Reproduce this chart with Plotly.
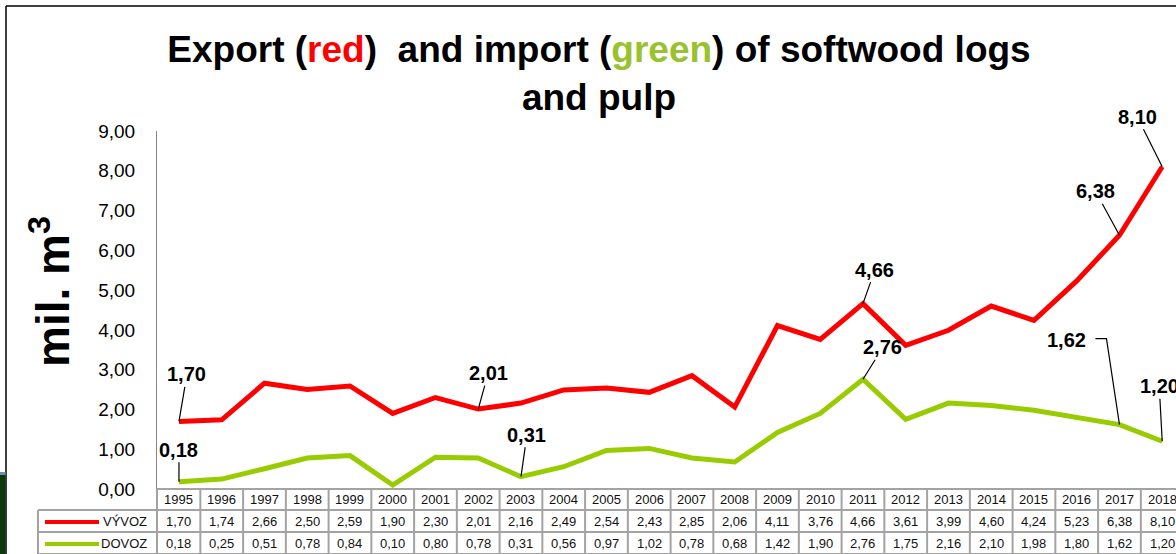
import plotly.graph_objects as go

# ---------------- data ----------------
years = list(range(1995, 2019))
vyvoz = [1.70, 1.74, 2.66, 2.50, 2.59, 1.90, 2.30, 2.01, 2.16, 2.49, 2.54, 2.43,
         2.85, 2.06, 4.11, 3.76, 4.66, 3.61, 3.99, 4.60, 4.24, 5.23, 6.38, 8.10]
dovoz = [0.18, 0.25, 0.51, 0.78, 0.84, 0.10, 0.80, 0.78, 0.31, 0.56, 0.97, 1.02,
         0.78, 0.68, 1.42, 1.90, 2.76, 1.75, 2.16, 2.10, 1.98, 1.80, 1.62, 1.20]
series_names = ["VÝVOZ", "DOVOZ"]
y_ticks = [0, 1, 2, 3, 4, 5, 6, 7, 8, 9]
labels_vyvoz = [1995, 2002, 2011, 2017, 2018]
labels_dovoz = [1995, 2003, 2011, 2017, 2018]

# ---------------- styling / layout geometry ----------------
RED = "#ff0000"
GREEN = "#99cc00"
FONT = "Liberation Sans, Arial, sans-serif"
W, H = 1176, 554
L, T, B = 157, 131, 489
PW, PH = W - L, B - T
GRID = "#a3a3a3"


def px(x):
    return (x - L) / PW


def py(y):
    return (B - y) / PH


def fmt(v):
    return f"{v:.2f}".replace(".", ",")


fig = go.Figure()
fig.add_trace(go.Scatter(x=years, y=vyvoz, mode="lines", name=series_names[0],
                         line=dict(color=RED, width=5), cliponaxis=False))
fig.add_trace(go.Scatter(x=years, y=dovoz, mode="lines", name=series_names[1],
                         line=dict(color=GREEN, width=5), cliponaxis=False))

shapes = []
annotations = []

# frame / background pieces
shapes.append(dict(type="line", xref="paper", yref="paper", x0=px(6), x1=1.0,
                   y0=py(6), y1=py(6), line=dict(color="black", width=1.5)))
shapes.append(dict(type="line", xref="paper", yref="paper", x0=px(6), x1=px(6),
                   y0=py(6), y1=py(554), line=dict(color="black", width=1.5)))
shapes.append(dict(type="rect", xref="paper", yref="paper", x0=px(0), x1=px(5.5),
                   y0=py(475), y1=py(554), fillcolor="#0c3a0c", line=dict(width=0)))
shapes.append(dict(type="rect", xref="paper", yref="paper", x0=px(0), x1=px(5.5),
                   y0=py(472), y1=py(475), fillcolor="#6f8fb0", line=dict(width=0)))

# data table grid
row_tops = [489, 510, 532, 554]
shapes.append(dict(type="line", xref="paper", yref="paper", x0=0, x1=1,
                   y0=py(489), y1=py(489), line=dict(color=GRID, width=2)))
for yy in row_tops[1:]:
    shapes.append(dict(type="line", xref="paper", yref="paper", x0=px(38), x1=1,
                       y0=py(yy), y1=py(yy), line=dict(color=GRID, width=2)))
shapes.append(dict(type="line", xref="paper", yref="paper", x0=px(38), x1=px(38),
                   y0=py(510), y1=py(554), line=dict(color=GRID, width=2)))
shapes.append(dict(type="line", xref="paper", yref="paper", x0=0, x1=0,
                   y0=py(489), y1=py(554), line=dict(color=GRID, width=2)))
for yr in years:
    shapes.append(dict(type="line", xref="x", yref="paper", x0=yr + 0.5, x1=yr + 0.5,
                       y0=py(489), y1=py(554), line=dict(color=GRID, width=2)))

row_centers = [499.5, 521, 543]
for yr, v1, v2 in zip(years, vyvoz, dovoz):
    for txt, rc in ((str(yr), row_centers[0]), (fmt(v1), row_centers[1]), (fmt(v2), row_centers[2])):
        annotations.append(dict(x=yr, y=py(rc), xref="x", yref="paper", text=txt,
                                showarrow=False, font=dict(family=FONT, size=13, color="#111"),
                                xanchor="center", yanchor="middle"))

# legend keys in table
for name, col, rc in ((series_names[0], RED, row_centers[1]), (series_names[1], GREEN, row_centers[2])):
    shapes.append(dict(type="line", xref="paper", yref="paper", x0=px(45), x1=px(99),
                       y0=py(rc + 1), y1=py(rc + 1), line=dict(color=col, width=4)))
    annotations.append(dict(x=px(149), y=py(rc), xref="paper", yref="paper", text=name,
                            showarrow=False, font=dict(family=FONT, size=13, color="#111"),
                            xanchor="right", yanchor="middle"))

# data labels with leader lines
offsets_v = {1995: (8, -47), 2002: (10, -36), 2011: (12, -34), 2017: (-24, -44), 2018: (-25, -50)}
offsets_d = {1995: (0, -32), 2003: (6, -42), 2011: (20, -32), 2017: (-53, -85), 2018: (-3, -55)}
for vals, labs, offs in ((vyvoz, labels_vyvoz, offsets_v), (dovoz, labels_dovoz, offsets_d)):
    for yr in labs:
        v = vals[years.index(yr)]
        ax, ay = offs[yr]
        elbow = (vals is dovoz and yr == 2017)
        annotations.append(dict(x=yr, y=v, xref="x", yref="y", text=f"<b>{fmt(v)}</b>",
                                showarrow=True, arrowhead=0, arrowwidth=1.2,
                                arrowcolor="rgba(0,0,0,0)" if elbow else "black",
                                ax=ax, ay=ay, standoff=0,
                                font=dict(family=FONT, size=20, color="black")))
        if elbow:
            shapes.append(dict(type="path", xref="x", yref="y", xsizemode="pixel",
                               ysizemode="pixel", xanchor=yr, yanchor=v,
                               path="M0,0 L-13,86 L-24,86",
                               line=dict(color="black", width=1.2)))

# y-axis title
annotations.append(dict(x=px(50), y=py(292), xref="paper", yref="paper",
                        text="<b>mil. m<sup>3</sup></b>", textangle=-90, showarrow=False,
                        font=dict(family=FONT, size=46, color="black"),
                        xanchor="center", yanchor="middle"))

title_text = ("<b>Export (<span style='color:#ff0000'>red</span>)&nbsp; and import "
              "(<span style='color:#99c22e'>green</span>) of softwood logs<br>and pulp</b>")

fig.update_layout(
    width=W, height=H, autosize=False,
    margin=dict(l=L, r=0, t=T, b=H - B, pad=0),
    paper_bgcolor="white", plot_bgcolor="white",
    separators=", ",
    showlegend=False,
    title=dict(text=title_text, x=599 / W, xref="container", xanchor="center",
               y=1 - 62 / H, yref="container", yanchor="top",
               font=dict(family=FONT, size=37, color="black")),
    xaxis=dict(range=[1994.486, 1994.486 + PW / 42.75], showticklabels=False,
               showgrid=False, zeroline=False, showline=False, fixedrange=True),
    yaxis=dict(range=[0, 9], tickvals=y_ticks, tickformat=".2f", showgrid=False,
               zeroline=False, showline=True, linecolor="#868686", linewidth=1,
               ticks="", ticklabelstandoff=17,
               tickfont=dict(family=FONT, size=19, color="black")),
    shapes=shapes,
    annotations=annotations,
)

fig.write_html("out.html", config={"displayModeBar": False},
               post_script="document.body.style.margin='0';document.body.style.padding='0';")
